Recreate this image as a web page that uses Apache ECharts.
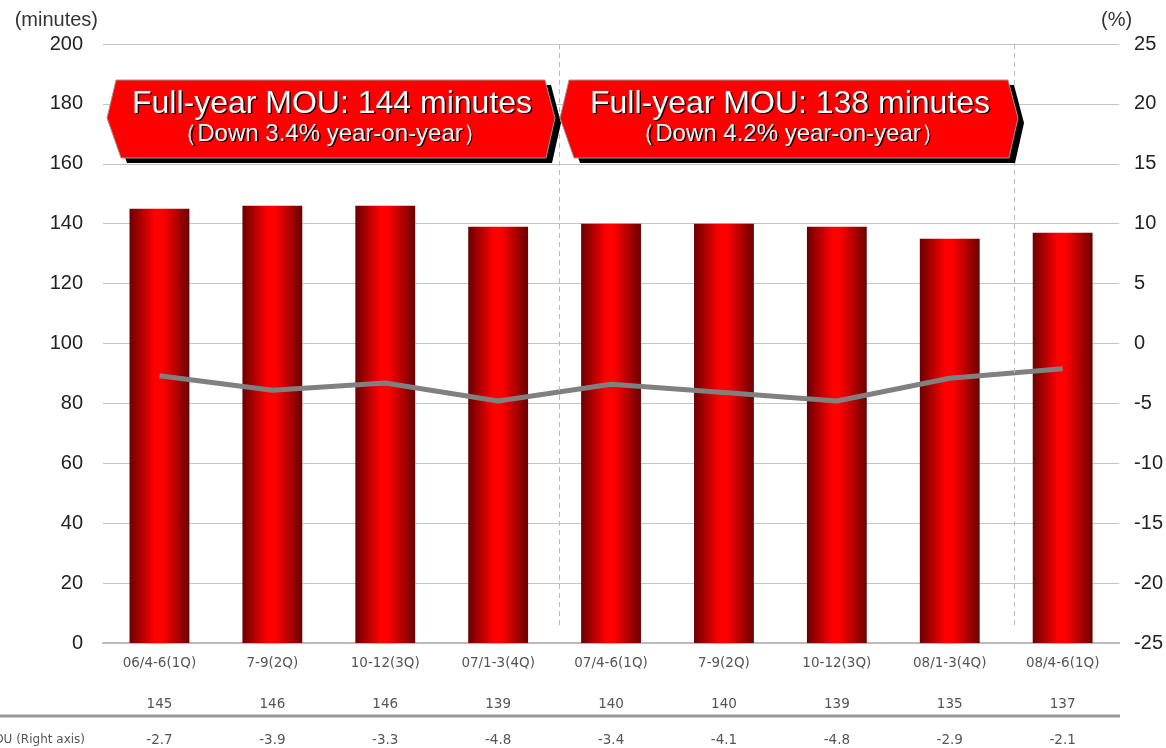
<!DOCTYPE html>
<html>
<head>
<meta charset="utf-8">
<script src="https://cdn.jsdelivr.net/npm/echarts@6/dist/echarts.min.js"></script>
<style>
  html, body { margin: 0; padding: 0; background: #fff; }
  #chart { width: 1166px; height: 748px; }
</style>
</head>
<body>
<div id="chart"></div>
<script>
// Quarterly MOU (minutes) and year-on-year change (%)
const categories = ['06/4-6(1Q)', '7-9(2Q)', '10-12(3Q)', '07/1-3(4Q)', '07/4-6(1Q)', '7-9(2Q)', '10-12(3Q)', '08/1-3(4Q)', '08/4-6(1Q)'];
const mouMinutes = [145, 146, 146, 139, 140, 140, 139, 135, 137];
const yoyChange = [-2.7, -3.9, -3.3, -4.8, -3.4, -4.1, -4.8, -2.9, -2.1];
const fiscalDividers = [4.04, 8.07];
const bannerLines = [
  ['Full-year MOU: 144 minutes', '（Down 3.4% year-on-year）'],
  ['Full-year MOU: 138 minutes', '（Down 4.2% year-on-year）']
];

const chart = echarts.init(document.getElementById('chart'));

const barGradient = new echarts.graphic.LinearGradient(0, 0, 1, 0, [
  { offset: 0, color: '#6a0000' },
  { offset: 0.42, color: '#ff0000' },
  { offset: 0.55, color: '#ff0000' },
  { offset: 1, color: '#6a0000' }
]);

const tableFont = { color: '#555', fontFamily: 'DejaVu Sans', fontSize: 13.5 };

const rowAxis = (data, offset) => ({
  type: 'category', data: data.map(String), position: 'bottom', offset: offset,
  axisLine: { show: false }, axisTick: { show: false },
  axisLabel: Object.assign({ margin: 8 }, tableFont)
});

// White caption with a hard dark drop shadow (drawn as an offset copy)
function shadowedText(x, y, text, size) {
  const base = { text: text, fontSize: size, fontFamily: 'Liberation Sans, Arial, sans-serif', align: 'center', verticalAlign: 'middle' };
  return [
    { type: 'text', x: x + 1.5, y: y + 1.5, style: Object.assign({ fill: '#1a0000' }, base), z: 12 },
    { type: 'text', x: x, y: y, style: Object.assign({ fill: '#fff' }, base), z: 13 }
  ];
}

function bannerShape(x0, x1, idx) {
  const top = 80, bot = 158, mid = 118;
  const pts = [[x0, mid], [x0 + 9, top], [x1 - 10, top], [x1, mid], [x1 - 9, bot], [x0 + 14, bot]];
  const shadow = pts.map(p => [p[0] + 6, p[1] + 5]);
  const cx = (x0 + x1) / 2;
  return [
    { type: 'polygon', shape: { points: shadow }, style: { fill: '#000' }, z: 10 },
    { type: 'polygon', shape: { points: pts }, style: { fill: '#ff0000', stroke: '#999', lineWidth: 1 }, z: 11 },
    ...shadowedText(cx + 1, 104, bannerLines[idx][0], 32),
    ...shadowedText(cx - 1, 134, bannerLines[idx][1], 24)
  ];
}

chart.setOption({
  animation: false,
  grid: { left: 103, right: 46, top: 44, bottom: 105 },
  xAxis: [
    {
      type: 'category', data: categories,
      axisLine: { lineStyle: { color: '#bbb', width: 2 } }, axisTick: { show: false },
      axisLabel: Object.assign({ margin: 13 }, tableFont)
    },
    rowAxis(mouMinutes, 46),
    rowAxis(yoyChange, 82),
    { type: 'value', min: 0, max: 9, show: false }
  ],
  yAxis: [
    {
      type: 'value', min: 0, max: 200, interval: 20,
      name: '(minutes)', nameLocation: 'end', nameGap: 14,
      nameTextStyle: { color: '#333', fontSize: 20, fontFamily: 'Liberation Sans', align: 'right', padding: [0, 5, 0, 0] },
      axisLine: { show: false }, axisTick: { show: false },
      axisLabel: { color: '#222', fontSize: 20, fontFamily: 'Liberation Sans', margin: 20 },
      splitLine: { lineStyle: { color: '#c4c4c4', width: 1 } }
    },
    {
      type: 'value', min: -25, max: 25, interval: 5, position: 'right',
      name: '(%)', nameLocation: 'end', nameGap: 14,
      nameTextStyle: { color: '#333', fontSize: 20, fontFamily: 'Liberation Sans', align: 'right', padding: [0, -13, 0, 0] },
      axisLine: { show: false }, axisTick: { show: false },
      axisLabel: { color: '#222', fontSize: 20, fontFamily: 'Liberation Sans', margin: 15 },
      splitLine: { show: false }
    }
  ],
  series: [
    {
      type: 'bar', data: mouMinutes, xAxisIndex: 0, yAxisIndex: 0,
      barWidth: '53%', itemStyle: { color: barGradient }, z: 3
    },
    {
      type: 'line', data: yoyChange, xAxisIndex: 0, yAxisIndex: 1,
      symbol: 'none', lineStyle: { color: '#808080', width: 5 }, z: 4
    },
    {
      // fiscal-year dividers
      type: 'line', data: [], xAxisIndex: 3, yAxisIndex: 0,
      markLine: {
        silent: true, symbol: 'none', label: { show: false },
        lineStyle: { color: '#bbb', type: [5, 4], width: 1 },
        data: fiscalDividers.map(x => [{ coord: [x, 6] }, { coord: [x, 200] }])
      }
    }
  ],
  graphic: [
    ...bannerShape(107, 555, 0),
    ...bannerShape(560, 1018, 1),
    { type: 'line', shape: { x1: 0, y1: 716, x2: 1120, y2: 716 }, style: { stroke: '#999', lineWidth: 3 } },
    { type: 'text', x: 85, y: 740, style: { text: 'Year-on-year change in MOU (Right axis)', fill: '#555', fontFamily: 'DejaVu Sans', fontSize: 12, align: 'right', verticalAlign: 'middle' } }
  ]
});
</script>
</body>
</html>
